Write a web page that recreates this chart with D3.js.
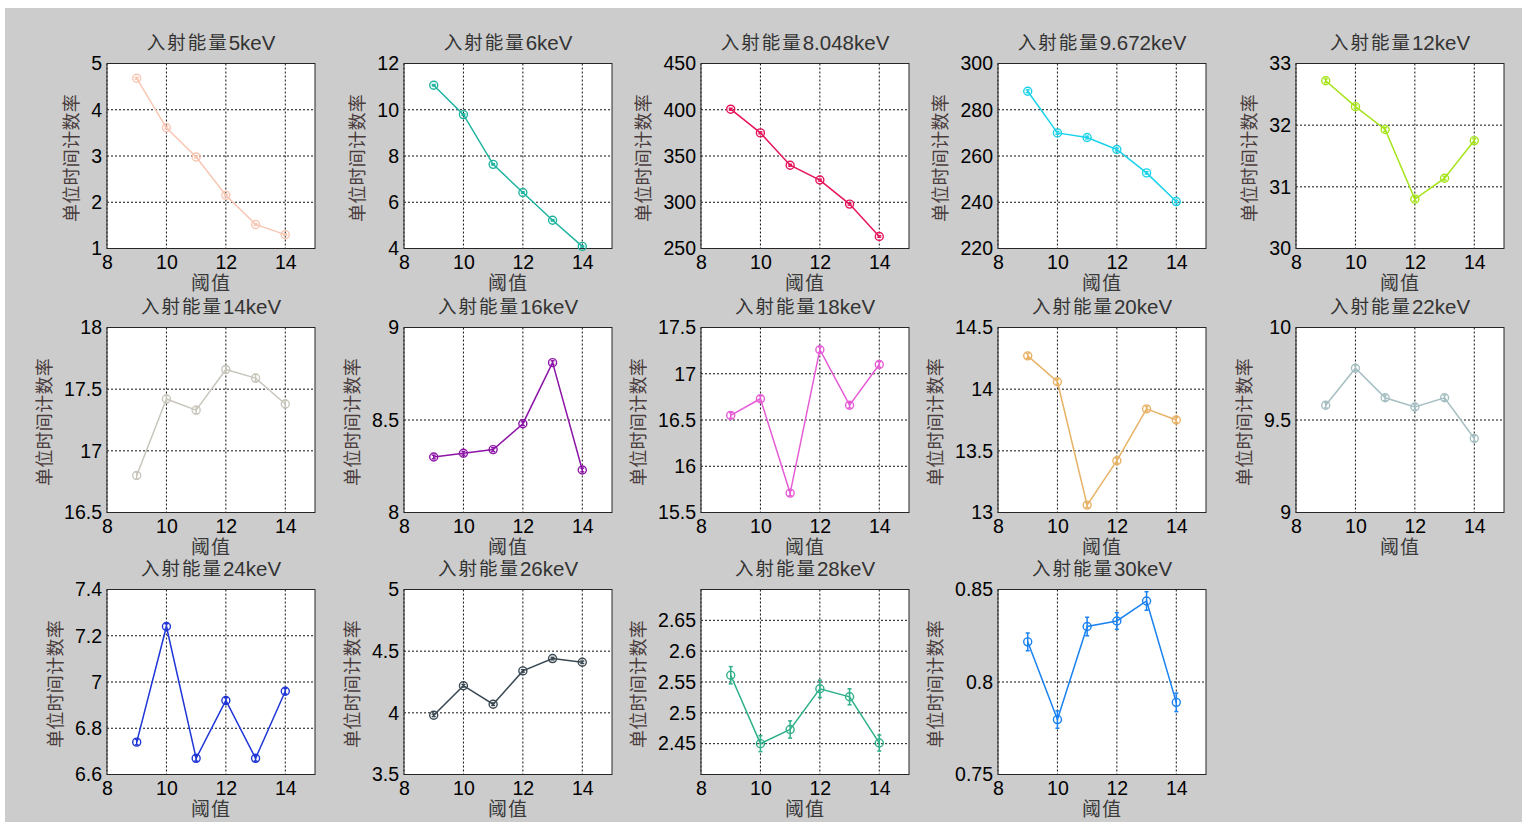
<!DOCTYPE html>
<html>
<head>
<meta charset="utf-8">
<script src="https://cdn.jsdelivr.net/npm/d3@7/dist/d3.min.js"></script>
<style>
  html, body { margin: 0; padding: 0; background: #ffffff; }
  svg { display: block; }
</style>
</head>
<body>
<svg id="chart" width="1528" height="822"></svg>
<script>
// Threshold settings shared by every panel
const thresholds = [9, 10, 11, 12, 13, 14];
const xDomain = [8, 15];
const xTicks = [8, 10, 12, 14];

// Incident energies (panel titles)
const energies = ["5keV", "6keV", "8.048keV", "9.672keV", "12keV",
                  "14keV", "16keV", "18keV", "20keV", "22keV",
                  "24keV", "26keV", "28keV", "30keV"];

// Count rate per unit time at each threshold, with its uncertainty
const rate_5keV     = [4.68, 3.61, 2.98, 2.15, 1.52, 1.30];
const err_5keV      = [0.02, 0.02, 0.02, 0.02, 0.015, 0.015];
const rate_6keV     = [11.06, 9.79, 7.64, 6.42, 5.22, 4.09];
const err_6keV      = [0.03, 0.03, 0.03, 0.03, 0.03, 0.03];
const rate_8_048keV = [400.6, 375, 340, 324, 298, 263];
const err_8_048keV  = [1.0, 1.0, 1.0, 1.0, 1.0, 0.9];
const rate_9_672keV = [288, 270, 268, 262.8, 252.7, 240.3];
const err_9_672keV  = [0.6, 0.6, 0.6, 0.6, 0.5, 0.5];
const rate_12keV    = [32.72, 32.3, 31.93, 30.8, 31.14, 31.75];
const err_12keV     = [0.03, 0.03, 0.03, 0.03, 0.03, 0.03];
const rate_14keV    = [16.8, 17.42, 17.33, 17.66, 17.59, 17.38];
const err_14keV     = [0.03, 0.03, 0.03, 0.03, 0.03, 0.03];
const rate_16keV    = [8.30, 8.32, 8.34, 8.48, 8.81, 8.23];
const err_16keV     = [0.01, 0.01, 0.01, 0.01, 0.01, 0.01];
const rate_18keV    = [16.55, 16.73, 15.71, 17.26, 16.66, 17.1];
const err_18keV     = [0.03, 0.03, 0.03, 0.03, 0.03, 0.03];
const rate_20keV    = [14.27, 14.06, 13.06, 13.42, 13.84, 13.75];
const err_20keV     = [0.02, 0.02, 0.02, 0.02, 0.02, 0.02];
const rate_22keV    = [9.58, 9.78, 9.62, 9.57, 9.62, 9.40];
const err_22keV     = [0.015, 0.015, 0.015, 0.015, 0.015, 0.015];
const rate_24keV    = [6.74, 7.24, 6.67, 6.92, 6.67, 6.96];
const err_24keV     = [0.012, 0.012, 0.012, 0.012, 0.012, 0.012];
const rate_26keV    = [3.98, 4.22, 4.07, 4.34, 4.44, 4.41];
const err_26keV     = [0.01, 0.01, 0.01, 0.01, 0.01, 0.01];
const rate_28keV    = [2.561, 2.45, 2.473, 2.539, 2.526, 2.451];
const err_28keV     = [0.014, 0.013, 0.014, 0.014, 0.013, 0.013];
const rate_30keV    = [0.8217, 0.7797, 0.830, 0.833, 0.8438, 0.789];
const err_30keV     = [0.0048, 0.0047, 0.005, 0.0045, 0.005, 0.005];

const rates = [rate_5keV, rate_6keV, rate_8_048keV, rate_9_672keV, rate_12keV,
               rate_14keV, rate_16keV, rate_18keV, rate_20keV, rate_22keV,
               rate_24keV, rate_26keV, rate_28keV, rate_30keV];
const errors = [err_5keV, err_6keV, err_8_048keV, err_9_672keV, err_12keV,
                err_14keV, err_16keV, err_18keV, err_20keV, err_22keV,
                err_24keV, err_26keV, err_28keV, err_30keV];

// Y axis limits and tick values
const yDomains = [[1, 5], [4, 12], [250, 450], [220, 300], [30, 33],
                  [16.5, 18], [8, 9], [15.5, 17.5], [13, 14.5], [9, 10],
                  [6.6, 7.4], [3.5, 5], [2.4, 2.7], [0.75, 0.85]];
const yTicks = [[1, 2, 3, 4, 5], [4, 6, 8, 10, 12], [250, 300, 350, 400, 450],
                [220, 240, 260, 280, 300], [30, 31, 32, 33],
                [16.5, 17, 17.5, 18], [8, 8.5, 9], [15.5, 16, 16.5, 17, 17.5],
                [13, 13.5, 14, 14.5], [9, 9.5, 10],
                [6.6, 6.8, 7, 7.2, 7.4], [3.5, 4, 4.5, 5],
                [2.45, 2.5, 2.55, 2.6, 2.65], [0.75, 0.8, 0.85]];

// Series colours
const colors = ["#f8c6b2", "#1fb4a0", "#e6135a", "#1ad2ea", "#a6e41a",
                "#c9c6bc", "#8c14a6", "#e65cd6", "#e8b266", "#a6bfc3",
                "#2036d6", "#3a4852", "#2fb08a", "#1a82f0"];

const titlePrefix = "入射能量";
const xLabel = "阈值";
const yLabel = "单位时间计数率";

// ---- layout ----
const svg = d3.select("#chart");
svg.append("rect").attr("x", 5).attr("y", 8).attr("width", 1517).attr("height", 814)
  .attr("fill", "#cccccc");

const colLeft = [107, 404, 701, 998, 1296];
const rowTop = [63.5, 327.5, 589.5];
const plotW = 208, plotH = 185;
const FONT = "'Liberation Sans', Arial, 'Noto Sans CJK SC', sans-serif";
const fmt = d3.format("~g");

energies.forEach((energy, i) => {
  const col = i % 5, row = Math.floor(i / 5);
  const left = colLeft[col], top = rowTop[row];
  const g = svg.append("g").attr("transform", `translate(${left},${top})`);

  const x = d3.scaleLinear().domain(xDomain).range([0, plotW]);
  const y = d3.scaleLinear().domain(yDomains[i]).range([plotH, 0]);

  // plot area
  g.append("rect").attr("width", plotW).attr("height", plotH).attr("fill", "#ffffff");

  // dotted grid
  const grid = g.append("g").attr("stroke", "#111").attr("stroke-width", 1)
    .attr("stroke-dasharray", "2,2");
  xTicks.forEach(t => {
    grid.append("line").attr("x1", x(t)).attr("x2", x(t)).attr("y1", 0).attr("y2", plotH);
  });
  yTicks[i].forEach(t => {
    grid.append("line").attr("x1", 0).attr("x2", plotW).attr("y1", y(t)).attr("y2", y(t));
  });

  // axes
  const yAxis = g.append("g")
    .call(d3.axisLeft(y).tickValues(yTicks[i]).tickFormat(fmt).tickSize(0).tickPadding(5));
  const xAxis = g.append("g").attr("transform", `translate(0,${plotH})`)
    .call(d3.axisBottom(x).tickValues(xTicks).tickFormat(fmt).tickSize(0).tickPadding(7));
  [xAxis, yAxis].forEach(a => {
    a.select(".domain").remove();
    a.selectAll("text").attr("font-family", FONT).attr("font-size", 19.5).attr("fill", "#000");
  });

  // frame
  g.append("rect").attr("width", plotW).attr("height", plotH)
    .attr("fill", "none").attr("stroke", "#262626").attr("stroke-width", 1);

  // series line
  const vals = rates[i], errs = errors[i], c = colors[i];
  const pts = thresholds.map((t, k) => [t, vals[k], errs[k]]);
  g.append("path").datum(pts)
    .attr("fill", "none").attr("stroke", c).attr("stroke-width", 1.5)
    .attr("d", d3.line().x(d => x(d[0])).y(d => y(d[1])));

  // error bars
  const eb = g.append("g").attr("stroke", c).attr("stroke-width", 1.5);
  pts.forEach(d => {
    const cx = x(d[0]), y0 = y(d[1] - d[2]), y1 = y(d[1] + d[2]);
    eb.append("line").attr("x1", cx).attr("x2", cx).attr("y1", y0).attr("y2", y1);
    eb.append("line").attr("x1", cx - 2).attr("x2", cx + 2).attr("y1", y0).attr("y2", y0);
    eb.append("line").attr("x1", cx - 2).attr("x2", cx + 2).attr("y1", y1).attr("y2", y1);
  });

  // circle markers
  g.append("g").selectAll("circle").data(pts).join("circle")
    .attr("cx", d => x(d[0])).attr("cy", d => y(d[1])).attr("r", 4)
    .attr("fill", "none").attr("stroke", c).attr("stroke-width", 1.4);

  // title: CJK prefix followed by the energy
  const title = g.append("text").attr("x", plotW / 2).attr("y", -22)
    .attr("text-anchor", "middle").attr("dominant-baseline", "central")
    .attr("font-family", FONT).attr("fill", "#333");
  title.append("tspan").attr("font-size", 18.5).attr("letter-spacing", 2).text(titlePrefix);
  title.append("tspan").attr("font-size", 20.5).text(energy);

  // x label
  g.append("text").attr("x", plotW / 2).attr("y", plotH + 35)
    .attr("text-anchor", "middle").attr("dominant-baseline", "central")
    .attr("font-family", FONT).attr("font-size", 19).attr("letter-spacing", 1)
    .attr("fill", "#3a3a3a").text(xLabel);

  // y label, placed just outside the widest tick label
  let maxW = 0;
  yAxis.selectAll("text").each(function () {
    maxW = Math.max(maxW, this.getComputedTextLength());
  });
  const ylx = -5 - maxW - 19;
  g.append("text")
    .attr("transform", `translate(${ylx},${plotH / 2 + 2}) rotate(-90)`)
    .attr("text-anchor", "middle").attr("dominant-baseline", "central")
    .attr("font-family", FONT).attr("font-size", 18).attr("letter-spacing", 0.3)
    .attr("fill", "#4a3c3c").text(yLabel);
});
</script>
</body>
</html>
